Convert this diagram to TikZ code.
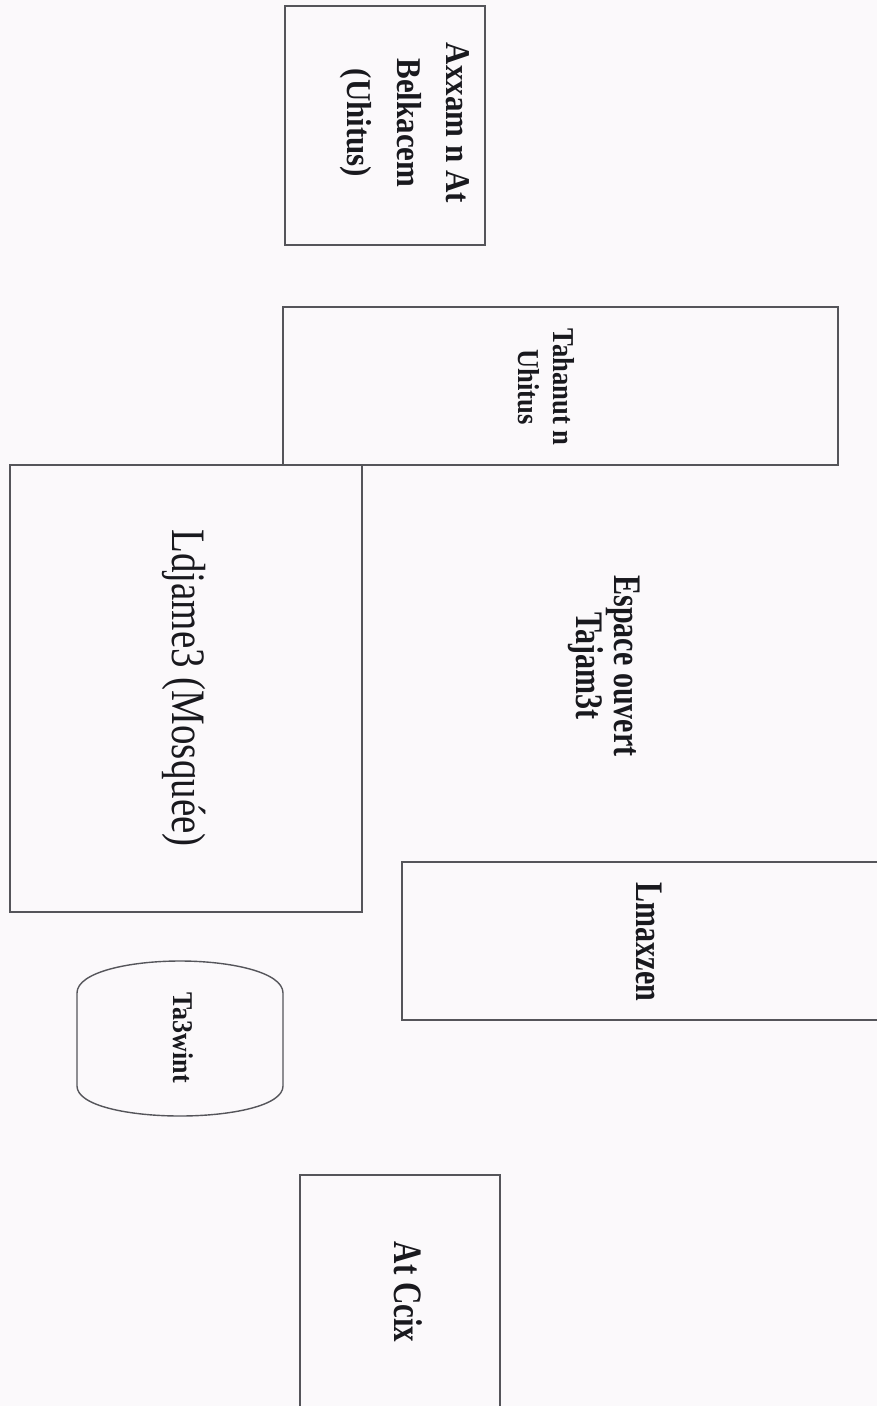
\documentclass[tikz,border=0pt]{standalone}
\usepackage{fontspec}
\setmainfont{Liberation Serif}
\usepackage{graphicx}
\definecolor{paper}{RGB}{251,249,251}
\definecolor{ink}{RGB}{85,85,90}
\definecolor{txt}{RGB}{25,25,30}
\newcommand{\rtext}[4]{\fontsize{#1}{#2}\selectfont\scalebox{1}[#3]{\begin{tabular}{@{}c@{}}#4\end{tabular}}}
\tikzset{
  box/.style={draw=ink, line width=1.4pt, rectangle, inner sep=0pt},
  lbl/.style={rotate=-90, inner sep=0pt, text=txt, font=\bfseries},
  lblreg/.style={rotate=-90, inner sep=0pt, text=txt}
}
\begin{document}
\begin{tikzpicture}[x=1pt,y=-1pt]
\fill[paper] (0,0) rectangle (877,1406);
\useasboundingbox (0,0) rectangle (877,1406);
% boxes
\node[box, minimum width=200pt, minimum height=239pt] (axxam) at (385,125.5) {};
\node[box, minimum width=555pt, minimum height=158pt] (tahanut) at (560.5,386) {};
\node[box, minimum width=352pt, minimum height=447pt] (ldjame) at (186,688.5) {};
\node[box, minimum width=480pt, minimum height=158pt] (lmaxzen) at (642,941) {};
\node[box, minimum width=200pt, minimum height=240pt] (atccix) at (400,1295) {};
% Ta3wint rounded shape
\coordinate (tw) at (180,1038);
\draw[ink, line width=1.4pt] (77,993) .. controls (77,972) and (130,961) .. (180,961)
  .. controls (230,961) and (283,972) .. (283,993) -- (283,1086)
  .. controls (283,1106) and (230,1116) .. (180,1116)
  .. controls (130,1116) and (77,1106) .. (77,1086) -- cycle;
% labels
\node[lbl] (axxam-t) at (407,123) {\rtext{31}{44.6}{1.12}{Axxam n At\\Belkacem\\(Uhitus)}};
\node[lbl] (tahanut-t) at (543,387) {\rtext{26.6}{30.7}{1.14}{Tahanut n\\Uhitus}};
\node[lblreg] (ldjame-t) at (183,688) {\rtext{39}{44}{1.23}{Ldjame3 (Mosquée)}};
\node[lbl] (espace-t) at (603,666) {\rtext{30}{28.5}{1.3}{Espace ouvert\\Tajam3t}};
\node[lbl] (lmaxzen-t) at (645,942) {\rtext{30}{34}{1.3}{Lmaxzen}};
\node[lbl] (tw-t) at (tw) {\rtext{26}{30}{1.1}{Ta3wint}};
\node[lbl] (atccix-t) at (403,1292) {\rtext{31}{34}{1.3}{At Ccix}};
\end{tikzpicture}
\end{document}
